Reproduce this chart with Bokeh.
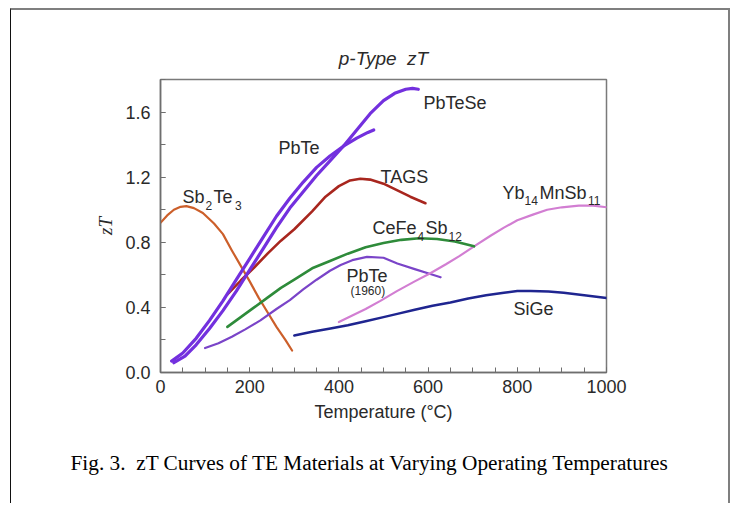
from bokeh.plotting import figure
from bokeh.models import Range1d, FixedTicker, Label, NumeralTickFormatter, Title
from bokeh.embed import file_html
from bokeh.resources import INLINE

# ---------------- data ----------------
sb2te3_t = [0, 15, 30, 45, 58, 75, 95, 120, 140, 160, 180, 200, 220, 240, 260, 280, 295]
sb2te3_zt = [0.92, 0.965, 1.0, 1.018, 1.022, 1.01, 0.98, 0.915, 0.85, 0.75, 0.655, 0.56, 0.46, 0.37, 0.28, 0.2, 0.135]

pbte_t = [25, 50, 80, 110, 140, 170, 200, 230, 260, 290, 320, 350, 380, 410, 440, 465, 478]
pbte_zt = [0.07, 0.12, 0.21, 0.32, 0.44, 0.57, 0.70, 0.83, 0.96, 1.07, 1.17, 1.26, 1.33, 1.39, 1.44, 1.475, 1.49]

pbtese_t = [30, 55, 80, 110, 140, 170, 200, 230, 260, 290, 320, 350, 380, 410, 440, 470, 500, 525, 550, 565, 578]
pbtese_zt = [0.06, 0.10, 0.17, 0.27, 0.38, 0.50, 0.63, 0.76, 0.89, 1.01, 1.11, 1.21, 1.30, 1.39, 1.49, 1.59, 1.67, 1.715, 1.74, 1.745, 1.74]

tags_t = [150, 180, 210, 240, 270, 300, 340, 370, 400, 425, 448, 470, 500, 530, 560, 594]
tags_zt = [0.48, 0.565, 0.645, 0.73, 0.81, 0.88, 0.99, 1.08, 1.145, 1.18, 1.19, 1.185, 1.16, 1.12, 1.08, 1.04]

cefe_t = [150, 180, 210, 240, 270, 300, 340, 380, 420, 460, 500, 540, 580, 620, 660, 703]
cefe_zt = [0.28, 0.34, 0.40, 0.46, 0.52, 0.57, 0.64, 0.685, 0.73, 0.77, 0.795, 0.815, 0.825, 0.82, 0.805, 0.775]

yb_t = [400, 430, 460, 493, 530, 570, 605, 640, 670, 703, 740, 770, 800, 835, 867, 900, 938, 970, 1000]
yb_zt = [0.31, 0.35, 0.39, 0.44, 0.5, 0.56, 0.61, 0.665, 0.715, 0.775, 0.84, 0.89, 0.935, 0.97, 1.0, 1.015, 1.025, 1.025, 1.015]

pbte60_t = [100, 130, 160, 190, 224, 260, 290, 320, 350, 380, 404, 430, 463, 500, 531, 570, 605, 628]
pbte60_zt = [0.15, 0.18, 0.22, 0.265, 0.32, 0.39, 0.445, 0.51, 0.57, 0.625, 0.66, 0.69, 0.71, 0.705, 0.67, 0.635, 0.605, 0.585]

sige_t = [300, 340, 381, 420, 460, 500, 531, 570, 610, 650, 690, 730, 770, 800, 830, 870, 904, 950, 1000]
sige_zt = [0.227, 0.25, 0.27, 0.29, 0.315, 0.34, 0.36, 0.385, 0.41, 0.43, 0.455, 0.475, 0.49, 0.50, 0.50, 0.497, 0.49, 0.475, 0.457]

x_ticks = [0, 200, 400, 600, 800, 1000]
y_ticks = [0.0, 0.4, 0.8, 1.2, 1.6]

# ---------------- layout (page pixels) ----------------
CX, CY = 11, 10                      # canvas origin inside the page border
CW, CH = 720, 495                    # canvas size
FL, FR, FT, FB = 160, 606, 79, 372   # frame edges in page pixels
XMAX, YMAX = 1000, 1.8
CAPTION_LEFT = 70

def px2x(px):
    return (px - FL) / (FR - FL) * XMAX

def py2y(py):
    return (FB - py) / (FB - FT) * YMAX

p = figure(width=CW, height=CH, output_backend="svg", toolbar_location=None,
           x_range=Range1d(0, XMAX), y_range=Range1d(0, YMAX),
           min_border_left=FL - CX, min_border_right=CX + CW - FR,
           min_border_top=FT - CY, min_border_bottom=CY + CH - FB)
p.styles = {
    "margin-left": "10px",
    "margin-top": "8px",
    "border-left": "1px solid #111111",
    "border-top": "2px solid #7f7f7f",
    "border-right": "2px solid #7f7f7f",
}
p.background_fill_color = "white"
p.border_fill_color = "white"
p.outline_line_color = "#7a7a7a"
p.outline_line_width = 1.5
p.xgrid.visible = False
p.ygrid.visible = False

FONT = "Liberation Sans"
TXT = "#2a2a2a"
AX = "#6e6e6e"

for ax in (p.xaxis[0], p.yaxis[0]):
    ax.axis_line_color = AX
    ax.axis_line_width = 1.5
    ax.major_tick_line_color = AX
    ax.minor_tick_line_color = AX
    ax.major_tick_in = 5
    ax.major_tick_out = 0
    ax.minor_tick_in = 5
    ax.minor_tick_out = 0
    ax.major_label_text_font = FONT
    ax.major_label_text_font_size = "18px"
    ax.major_label_text_color = TXT

p.xaxis.ticker = FixedTicker(ticks=x_ticks, minor_ticks=list(range(0, 1001, 50)))
p.yaxis.ticker = FixedTicker(ticks=y_ticks, minor_ticks=[i * 0.2 for i in range(10)])
p.yaxis.formatter = NumeralTickFormatter(format="0.0")
p.xaxis.major_label_standoff = 7
p.yaxis.major_label_standoff = 10

p.xaxis.axis_label = "Temperature (°C)"
p.xaxis.axis_label_text_font = FONT
p.xaxis.axis_label_text_font_style = "normal"
p.xaxis.axis_label_text_font_size = "18px"
p.xaxis.axis_label_text_color = TXT
p.xaxis.axis_label_standoff = 6

p.yaxis.axis_label = "zT"
p.yaxis.axis_label_text_font = "Liberation Serif"
p.yaxis.axis_label_text_font_style = "italic"
p.yaxis.axis_label_text_font_size = "19px"
p.yaxis.axis_label_text_color = TXT
p.yaxis.axis_label_standoff = 6

NB = "\u00a0"

# title
p.title.text = "p-Type" + NB + NB + "zT"
p.title.align = "center"
p.title.text_font = FONT
p.title.text_font_style = "italic"
p.title.text_font_size = "19px"
p.title.text_color = TXT
p.title.standoff = 21

# caption below the chart
cap = Title(text="Fig. 3." + NB + NB + "zT Curves of TE Materials at Varying Operating Temperatures",
            align="left", offset=CAPTION_LEFT - FL, text_font="Liberation Serif",
            text_font_style="normal", text_font_size="21.3px", text_color="black",
            standoff=48)
p.add_layout(cap, "below")

# ---------------- curves ----------------
def curve(x, y, color, w):
    p.line(x, y, line_color=color, line_width=w, line_join="round", line_cap="round")

curve(sb2te3_t, sb2te3_zt, "#cc5f2a", 2.2)
curve(pbte60_t, pbte60_zt, "#7a44c8", 2.2)
curve(sige_t, sige_zt, "#1f2590", 2.5)
curve(yb_t, yb_zt, "#d27ed2", 2.2)
curve(cefe_t, cefe_zt, "#2e8b3a", 2.6)
curve(tags_t, tags_zt, "#a8261e", 2.6)
curve(pbte_t, pbte_zt, "#7330de", 3.2)
curve(pbtese_t, pbtese_zt, "#7330de", 3.2)

# ---------------- curve labels ----------------
def lab(px, py, text, size=18, font=FONT, color=TXT):
    p.add_layout(Label(x=px2x(px), y=py2y(py), text=text, text_font=font,
                       text_font_size=f"{size}px", text_color=color,
                       text_align="left", text_baseline="alphabetic"))

SUB = 12
lab(182, 196, "Sb"); lab(205, 205, "2", SUB); lab(213, 196, "Te"); lab(234.5, 205, "3", SUB)
lab(278, 147, "PbTe")
lab(423, 102, "PbTeSe")
lab(380, 176, "TAGS")
lab(372, 227, "CeFe"); lab(417, 236, "4", SUB); lab(425, 227, "Sb"); lab(448, 236, "12", SUB)
lab(502, 192, "Yb"); lab(524, 200, "14", SUB); lab(539, 192, "MnSb"); lab(587.5, 200, "11", SUB)
lab(346, 275, "PbTe")
lab(350, 290, "(1960)", 12)
lab(513, 308, "SiGe")

open("out.html", "w").write(file_html(p, INLINE))
